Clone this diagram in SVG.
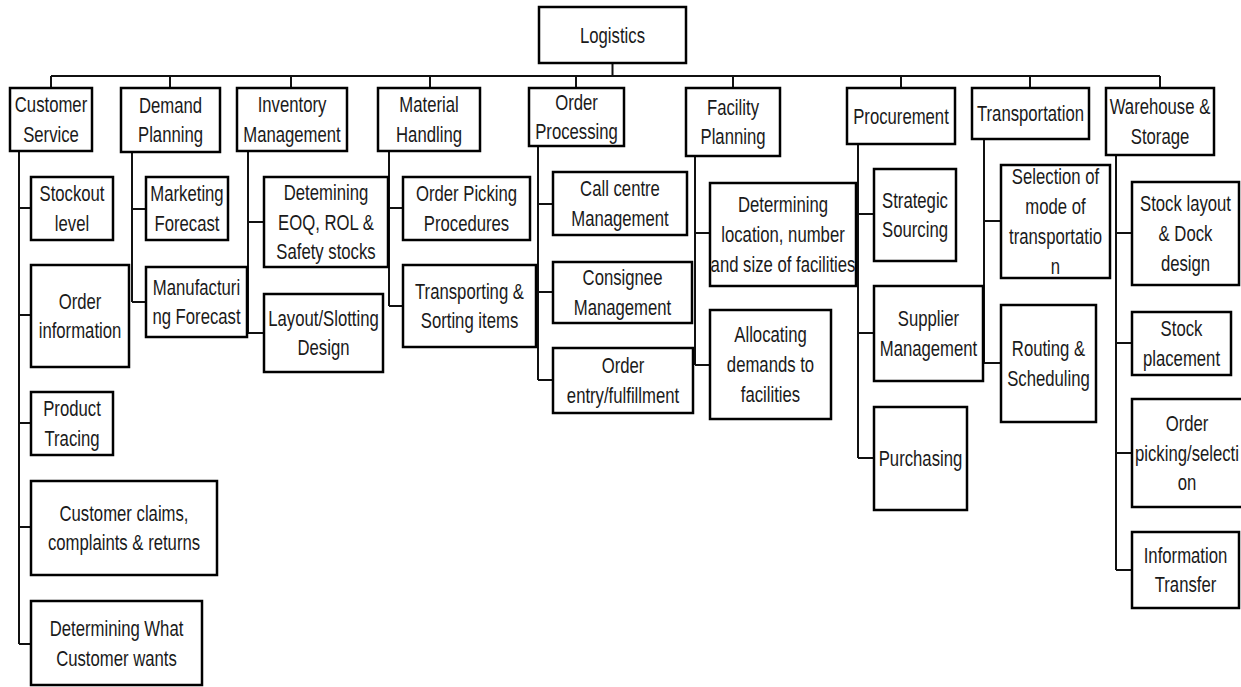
<svg xmlns="http://www.w3.org/2000/svg" width="1241" height="687" viewBox="0 0 1241 687">
<style>
.b{fill:#fff;stroke:#000;stroke-width:2.5}
.c{fill:none;stroke:#111;stroke-width:2}
text{font-family:"Liberation Sans",Arial,sans-serif;font-size:22px;fill:#1a1a1a;text-anchor:middle}
</style>
<rect width="1241" height="687" fill="#fff"/>
<g id="connectors" class="c">
<path d="M612.5 63V76M51 76H1160M51 76V88M170 76V88M291 76V88M430 76V88M576 76V88M733 76V88M901 76V88M1030 76V88M1160 76V88"/>
<path d="M19 151V644M19 208H31M19 315H31M19 423H31M19 527H31M19 644H31"/>
<path d="M132 152V302M132 209H146M132 302H146"/>
<path d="M248 151V333M248 222H264M248 333H264"/>
<path d="M389 151V306M389 208H403M389 306H403"/>
<path d="M538 146V380M538 204H553M538 292H553M538 380H553"/>
<path d="M695 156V365M695 233H710M695 365H710"/>
<path d="M858 144V458M858 214H874M858 333H874M858 458H874"/>
<path d="M984 139V363M984 221H1001M984 363H1001"/>
<path d="M1116 155V570M1116 233H1132M1116 343H1132M1116 453H1132M1116 570H1132"/>
</g>
<g id="logistics"><rect class="b" x="539" y="7" width="147" height="56"/><text transform="translate(612.5,35) scale(0.76,1)"><tspan x="0" y="7.5">Logistics</tspan></text></g>
<g id="customer-service"><rect class="b" x="10" y="88" width="82" height="63"/><text transform="translate(51,119.5) scale(0.76,1)"><tspan x="0" y="-7.5">Customer</tspan><tspan x="0" y="22.5">Service</tspan></text></g>
<g id="demand-planning"><rect class="b" x="121" y="88" width="99" height="64"/><text transform="translate(170.5,120) scale(0.76,1)"><tspan x="0" y="-7.5">Demand</tspan><tspan x="0" y="22.5">Planning</tspan></text></g>
<g id="inventory-management"><rect class="b" x="237" y="88" width="110" height="63"/><text transform="translate(292,119.5) scale(0.76,1)"><tspan x="0" y="-7.5">Inventory</tspan><tspan x="0" y="22.5">Management</tspan></text></g>
<g id="material-handling"><rect class="b" x="378" y="88" width="102" height="63"/><text transform="translate(429,119.5) scale(0.76,1)"><tspan x="0" y="-7.5">Material</tspan><tspan x="0" y="22.5">Handling</tspan></text></g>
<g id="order-processing"><rect class="b" x="529" y="88" width="95" height="58"/><text transform="translate(576.5,117) scale(0.76,1)"><tspan x="0" y="-7.5">Order</tspan><tspan x="0" y="22.5">Processing</tspan></text></g>
<g id="facility-planning"><rect class="b" x="686" y="88" width="94" height="68"/><text transform="translate(733,122) scale(0.76,1)"><tspan x="0" y="-7.5">Facility</tspan><tspan x="0" y="22.5">Planning</tspan></text></g>
<g id="procurement"><rect class="b" x="847" y="88" width="108" height="56"/><text transform="translate(901,116) scale(0.76,1)"><tspan x="0" y="7.5">Procurement</tspan></text></g>
<g id="transportation"><rect class="b" x="972" y="88" width="117" height="51"/><text transform="translate(1030.5,113.5) scale(0.76,1)"><tspan x="0" y="7.5">Transportation</tspan></text></g>
<g id="warehouse-storage"><rect class="b" x="1106" y="88" width="108" height="67"/><text transform="translate(1160,121.5) scale(0.76,1)"><tspan x="0" y="-7.5">Warehouse &amp;</tspan><tspan x="0" y="22.5">Storage</tspan></text></g>

<g id="stockout-level"><rect class="b" x="31" y="177" width="82" height="63"/><text transform="translate(72,208.5) scale(0.76,1)"><tspan x="0" y="-7.5">Stockout</tspan><tspan x="0" y="22.5">level</tspan></text></g>
<g id="order-information"><rect class="b" x="31" y="265" width="98" height="102"/><text transform="translate(80,316) scale(0.76,1)"><tspan x="0" y="-7.5">Order</tspan><tspan x="0" y="22.5">information</tspan></text></g>
<g id="product-tracing"><rect class="b" x="31" y="392" width="82" height="63"/><text transform="translate(72,423.5) scale(0.76,1)"><tspan x="0" y="-7.5">Product</tspan><tspan x="0" y="22.5">Tracing</tspan></text></g>
<g id="customer-claims"><rect class="b" x="31" y="481" width="186" height="94"/><text transform="translate(124,528) scale(0.76,1)"><tspan x="0" y="-7.5">Customer claims,</tspan><tspan x="0" y="22.5">complaints &amp; returns</tspan></text></g>
<g id="customer-wants"><rect class="b" x="31" y="601" width="171" height="84"/><text transform="translate(116.5,643.5) scale(0.76,1)"><tspan x="0" y="-7.5">Determining What</tspan><tspan x="0" y="22.5">Customer wants</tspan></text></g>

<g id="marketing-forecast"><rect class="b" x="146" y="177" width="82" height="63"/><text transform="translate(187,208.5) scale(0.76,1)"><tspan x="0" y="-7.5">Marketing</tspan><tspan x="0" y="22.5">Forecast</tspan></text></g>
<g id="manufacturing-forecast"><rect class="b" x="146" y="267" width="101" height="70"/><text transform="translate(196.5,302) scale(0.76,1)"><tspan x="0" y="-7.5">Manufacturi</tspan><tspan x="0" y="22.5">ng Forecast</tspan></text></g>

<g id="eoq"><rect class="b" x="264" y="177" width="124" height="90"/><text transform="translate(326,222) scale(0.76,1)"><tspan x="0" y="-22.5">Detemining</tspan><tspan x="0" y="7.5">EOQ, ROL &amp;</tspan><tspan x="0" y="37.5">Safety stocks</tspan></text></g>
<g id="layout-slotting"><rect class="b" x="264" y="294" width="119" height="78"/><text transform="translate(323.5,333) scale(0.76,1)"><tspan x="0" y="-7.5">Layout/Slotting</tspan><tspan x="0" y="22.5">Design</tspan></text></g>

<g id="order-picking-procedures"><rect class="b" x="403" y="177" width="127" height="63"/><text transform="translate(466.5,208.5) scale(0.76,1)"><tspan x="0" y="-7.5">Order Picking</tspan><tspan x="0" y="22.5">Procedures</tspan></text></g>
<g id="transporting-sorting"><rect class="b" x="403" y="265" width="133" height="82"/><text transform="translate(469.5,306) scale(0.76,1)"><tspan x="0" y="-7.5">Transporting &amp;</tspan><tspan x="0" y="22.5">Sorting items</tspan></text></g>

<g id="call-centre"><rect class="b" x="553" y="172" width="134" height="63"/><text transform="translate(620,203.5) scale(0.76,1)"><tspan x="0" y="-7.5">Call centre</tspan><tspan x="0" y="22.5">Management</tspan></text></g>
<g id="consignee"><rect class="b" x="553" y="262" width="139" height="61"/><text transform="translate(622.5,292.5) scale(0.76,1)"><tspan x="0" y="-7.5">Consignee</tspan><tspan x="0" y="22.5">Management</tspan></text></g>
<g id="order-entry"><rect class="b" x="553" y="348" width="140" height="65"/><text transform="translate(623,380.5) scale(0.76,1)"><tspan x="0" y="-7.5">Order</tspan><tspan x="0" y="22.5">entry/fulfillment</tspan></text></g>

<g id="facility-location"><rect class="b" x="710" y="183" width="146" height="103"/><text transform="translate(783,234.5) scale(0.76,1)"><tspan x="0" y="-22.5">Determining</tspan><tspan x="0" y="7.5">location, number</tspan><tspan x="0" y="37.5">and size of facilities</tspan></text></g>
<g id="allocating-demands"><rect class="b" x="710" y="310" width="121" height="109"/><text transform="translate(770.5,364.5) scale(0.76,1)"><tspan x="0" y="-22.5">Allocating</tspan><tspan x="0" y="7.5">demands to</tspan><tspan x="0" y="37.5">facilities</tspan></text></g>

<g id="strategic-sourcing"><rect class="b" x="874" y="169" width="82" height="92"/><text transform="translate(915,215) scale(0.76,1)"><tspan x="0" y="-7.5">Strategic</tspan><tspan x="0" y="22.5">Sourcing</tspan></text></g>
<g id="supplier-management"><rect class="b" x="874" y="286" width="109" height="95"/><text transform="translate(928.5,333.5) scale(0.76,1)"><tspan x="0" y="-7.5">Supplier</tspan><tspan x="0" y="22.5">Management</tspan></text></g>
<g id="purchasing"><rect class="b" x="874" y="407" width="93" height="103"/><text transform="translate(920.5,458.5) scale(0.76,1)"><tspan x="0" y="7.5">Purchasing</tspan></text></g>

<g id="mode-selection"><rect class="b" x="1001" y="165" width="109" height="113"/><text transform="translate(1055.5,221.5) scale(0.76,1)"><tspan x="0" y="-37.5">Selection of</tspan><tspan x="0" y="-7.5">mode of</tspan><tspan x="0" y="22.5">transportatio</tspan><tspan x="0" y="52.5">n</tspan></text></g>
<g id="routing-scheduling"><rect class="b" x="1001" y="305" width="95" height="117"/><text transform="translate(1048.5,363.5) scale(0.76,1)"><tspan x="0" y="-7.5">Routing &amp;</tspan><tspan x="0" y="22.5">Scheduling</tspan></text></g>

<g id="stock-layout"><rect class="b" x="1132" y="182" width="107" height="103"/><text transform="translate(1185.5,233.5) scale(0.76,1)"><tspan x="0" y="-22.5">Stock layout</tspan><tspan x="0" y="7.5">&amp; Dock</tspan><tspan x="0" y="37.5">design</tspan></text></g>
<g id="stock-placement"><rect class="b" x="1132" y="312" width="99" height="63"/><text transform="translate(1181.5,343.5) scale(0.76,1)"><tspan x="0" y="-7.5">Stock</tspan><tspan x="0" y="22.5">placement</tspan></text></g>
<g id="order-picking-selection"><rect class="b" x="1132" y="399" width="113" height="108"/><text transform="translate(1187,453) scale(0.76,1)"><tspan x="0" y="-22.5">Order</tspan><tspan x="0" y="7.5">picking/selecti</tspan><tspan x="0" y="37.5">on</tspan></text></g>
<g id="information-transfer"><rect class="b" x="1132" y="532" width="107" height="76"/><text transform="translate(1185.5,570) scale(0.76,1)"><tspan x="0" y="-7.5">Information</tspan><tspan x="0" y="22.5">Transfer</tspan></text></g>
</svg>
